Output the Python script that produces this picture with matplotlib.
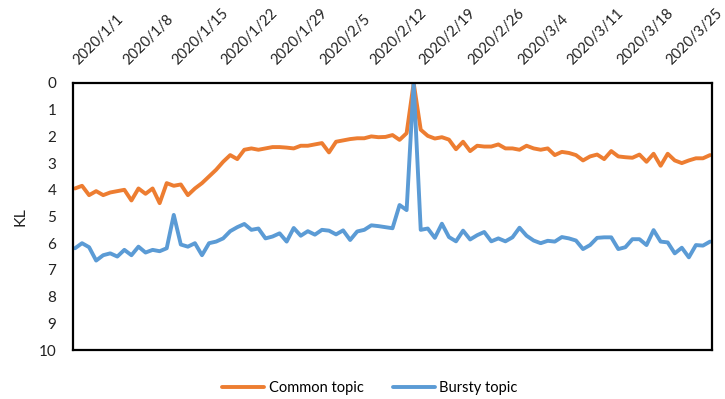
import numpy as np
import pandas as pd
import matplotlib
matplotlib.use("Agg")
import matplotlib.pyplot as plt
from matplotlib.transforms import ScaledTranslation

# daily KL values, 2020/1/1 .. 2020/3/31 (y axis is reversed)
dates = pd.date_range("2020-01-01", "2020-03-31", freq="D")

common_topic = [
    3.95, 3.85, 4.20, 4.05, 4.20, 4.10, 4.05, 4.00, 4.40, 3.95,
    4.15, 3.95, 4.50, 3.75, 3.85, 3.80, 4.20, 3.95, 3.75, 3.50,
    3.25, 2.95, 2.70, 2.85, 2.50, 2.45, 2.50, 2.45, 2.40, 2.40,
    2.42, 2.45, 2.35, 2.35, 2.30, 2.25, 2.60, 2.20, 2.15, 2.10,
    2.07, 2.07, 2.00, 2.03, 2.02, 1.95, 2.13, 1.88, 0.00, 1.75,
    1.98, 2.08, 2.03, 2.12, 2.48, 2.20, 2.55, 2.35, 2.38, 2.38,
    2.30, 2.45, 2.45, 2.50, 2.35, 2.45, 2.50, 2.45, 2.70, 2.58,
    2.62, 2.70, 2.90, 2.75, 2.68, 2.85, 2.55, 2.75, 2.78, 2.80,
    2.68, 2.95, 2.65, 3.10, 2.65, 2.90, 3.00, 2.90, 2.82, 2.82,
    2.70,
]

bursty_topic = [
    6.19, 6.00, 6.15, 6.65, 6.45, 6.38, 6.50, 6.25, 6.45, 6.13,
    6.35, 6.25, 6.30, 6.19, 4.94, 6.05, 6.13, 6.00, 6.45, 6.00,
    5.94, 5.82, 5.55, 5.40, 5.28, 5.50, 5.45, 5.82, 5.75, 5.63,
    5.94, 5.43, 5.72, 5.55, 5.68, 5.50, 5.53, 5.67, 5.52, 5.88,
    5.56, 5.50, 5.33, 5.36, 5.40, 5.44, 4.57, 4.76, 0.00, 5.50,
    5.45, 5.80, 5.27, 5.77, 5.93, 5.53, 5.86, 5.70, 5.58, 5.93,
    5.82, 5.93, 5.78, 5.42, 5.72, 5.90, 6.00, 5.91, 5.94, 5.77,
    5.82, 5.90, 6.22, 6.07, 5.80, 5.78, 5.78, 6.22, 6.15, 5.85,
    5.85, 6.07, 5.51, 5.94, 5.97, 6.38, 6.17, 6.53, 6.07, 6.09,
    5.94,
]

x = np.arange(len(dates))
tick_idx = x[::7][:13]
tick_labels = ["%d/%d/%d" % (d.year, d.month, d.day) for d in dates[tick_idx]]

plt.rcParams['font.family'] = ['Lato', 'DejaVu Sans']

fig = plt.figure(figsize=(7.25, 3.99), dpi=100)
ax = fig.add_axes([73/725, 1-350/399, (712-73)/725, (350-83)/399])

line1, = ax.plot(x, common_topic, color='#ED7D31', lw=2.8,
                 solid_joinstyle='round', solid_capstyle='round', label='Common topic')
line2, = ax.plot(x, bursty_topic, color='#5B9BD5', lw=2.8,
                 solid_joinstyle='round', solid_capstyle='round', label='Bursty topic')

ax.set_ylim(10, 0)
ax.set_yticks(range(0, 11))
ax.set_xlim(-0.28, len(x) - 1 + 0.28)

ax.xaxis.tick_top()
ax.set_xticks(tick_idx)
ax.set_xticklabels(tick_labels, rotation=45, ha='left', va='bottom',
                   rotation_mode='anchor', fontsize=10.5, color='#222222')
ax.tick_params(axis='x', length=0, pad=11)
ax.tick_params(axis='y', length=0, pad=12, labelsize=11, labelcolor='#222222')

# nudge the rotated date labels a little to the right
shift = ScaledTranslation(6/100, 0, fig.dpi_scale_trans)
for lbl in ax.get_xticklabels():
    lbl.set_transform(lbl.get_transform() + shift)

ax.set_ylabel('KL', fontsize=11.5, color='#222222', labelpad=8)

for s in ax.spines.values():
    s.set_linewidth(1.6)
    s.set_color('black')

fig.legend(handles=[line1, line2], loc='center', bbox_to_anchor=(0.51, 0.028),
           ncol=2, frameon=False, fontsize=10.5, handlelength=2.9,
           handletextpad=0.3, columnspacing=2.0)

fig.savefig('out.png', dpi=100)
